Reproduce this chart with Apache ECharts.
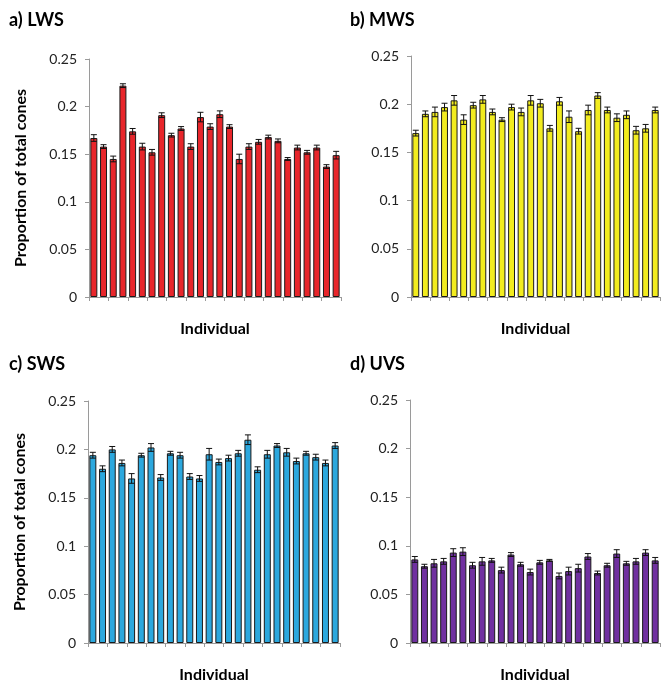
<!DOCTYPE html>
<html>
<head>
<meta charset="utf-8">
<script src="https://cdn.jsdelivr.net/npm/echarts@6/dist/echarts.min.js"></script>
<style>
html,body{margin:0;padding:0;background:#fff;}
#chart{width:665px;height:684px;}
</style>
</head>
<body>
<div id="chart"></div>
<script>
// ---- Data ----
var individuals = ['1','2','3','4','5','6','7','8','9','10','11','12','13','14','15','16','17','18','19','20','21','22','23','24','25','26'];
var yTicks = [0, 0.05, 0.1, 0.15, 0.2, 0.25];

var panelTitles = ['a) LWS', 'b) MWS', 'c) SWS', 'd) UVS'];

var lwsValues = [0.167,0.158,0.145,0.222,0.174,0.158,0.152,0.191,0.170,0.177,0.158,0.189,0.179,0.192,0.179,0.145,0.158,0.163,0.168,0.164,0.145,0.157,0.152,0.157,0.137,0.149];
var lwsErrors = [0.0035,0.002,0.003,0.002,0.003,0.0035,0.003,0.0025,0.002,0.002,0.003,0.005,0.003,0.0035,0.002,0.005,0.003,0.0025,0.002,0.002,0.0015,0.0025,0.002,0.0025,0.002,0.004];

var mwsValues = [0.170,0.190,0.192,0.197,0.204,0.184,0.199,0.205,0.192,0.184,0.197,0.192,0.204,0.201,0.175,0.203,0.187,0.172,0.194,0.209,0.194,0.186,0.189,0.173,0.175,0.194];
var mwsErrors = [0.003,0.003,0.005,0.004,0.005,0.005,0.003,0.004,0.003,0.002,0.003,0.004,0.005,0.004,0.003,0.004,0.006,0.003,0.005,0.003,0.003,0.004,0.004,0.004,0.004,0.003];

var swsValues = [0.194,0.180,0.200,0.186,0.170,0.194,0.202,0.171,0.196,0.194,0.172,0.170,0.195,0.187,0.191,0.196,0.210,0.179,0.195,0.204,0.197,0.188,0.196,0.192,0.186,0.204];
var swsErrors = [0.003,0.003,0.003,0.003,0.005,0.002,0.004,0.003,0.002,0.003,0.003,0.003,0.006,0.003,0.003,0.003,0.005,0.003,0.004,0.002,0.004,0.003,0.002,0.003,0.003,0.003];

var uvsValues = [0.086,0.079,0.082,0.084,0.093,0.094,0.080,0.084,0.085,0.075,0.091,0.081,0.073,0.083,0.085,0.069,0.074,0.077,0.089,0.072,0.080,0.092,0.082,0.084,0.093,0.085];
var uvsErrors = [0.003,0.002,0.004,0.003,0.004,0.004,0.003,0.004,0.002,0.003,0.002,0.002,0.003,0.002,0.001,0.003,0.004,0.004,0.003,0.002,0.002,0.004,0.002,0.003,0.003,0.003];

var panelValues = [lwsValues, mwsValues, swsValues, uvsValues];
var panelErrors = [lwsErrors, mwsErrors, swsErrors, uvsErrors];
var panelColors = ['#E8262B', '#F2EC1F', '#2CA8DE', '#7030A0'];

// ---- Layout ----
var grids = [
  {left: 89, top: 59, width: 252, height: 238},
  {left: 411, top: 56, width: 249, height: 241},
  {left: 88, top: 401, width: 252, height: 242},
  {left: 410, top: 400, width: 250, height: 243}
];
var titlePos = [[4, 6], [345, 6], [4, 350], [345, 350]];

var FONT = 'Lato, "Open Sans", sans-serif';
var chart = echarts.init(document.getElementById('chart'), null, {renderer: 'canvas'});

var option = {
  backgroundColor: '#ffffff',
  animation: false,
  title: panelTitles.map(function (t, i) {
    return {text: t, left: titlePos[i][0], top: titlePos[i][1],
      textStyle: {fontFamily: FONT, fontWeight: 'bold', fontSize: 18, color: '#000'}};
  }),
  grid: grids.map(function (g) { return Object.assign({containLabel: false}, g); }),
  xAxis: grids.map(function (g, i) {
    return {
      type: 'category', gridIndex: i, data: individuals,
      name: 'Individual', nameLocation: 'middle', nameGap: 24,
      nameTextStyle: {fontFamily: FONT, fontWeight: 'bold', fontSize: 16, color: '#000'},
      axisLine: {lineStyle: {color: '#9a9a9a', width: 1}},
      axisTick: {show: true, length: 4, lineStyle: {color: '#9a9a9a'}},
      axisLabel: {show: false},
      splitLine: {show: false}
    };
  }),
  yAxis: grids.map(function (g, i) {
    return {
      type: 'value', gridIndex: i, min: yTicks[0], max: yTicks[yTicks.length - 1], interval: 0.05,
      name: (i % 2 === 0) ? 'Proportion of total cones' : '',
      nameLocation: 'middle', nameGap: 60,
      nameTextStyle: {fontFamily: FONT, fontWeight: 'bold', fontSize: 16, color: '#000'},
      axisLine: {show: true, lineStyle: {color: '#9a9a9a', width: 1}},
      axisTick: {show: true, length: 4, lineStyle: {color: '#9a9a9a'}},
      axisLabel: {fontFamily: FONT, fontSize: 14, color: '#222', margin: 12,
        formatter: function (v) { return String(Math.round(v * 100) / 100); }},
      splitLine: {show: false}
    };
  }),
  series: []
};

panelValues.forEach(function (vals, i) {
  option.series.push({
    type: 'bar', xAxisIndex: i, yAxisIndex: i, data: vals,
    barCategoryGap: '28%',
    itemStyle: {color: panelColors[i], borderColor: '#1a1a1a', borderWidth: 1}
  });
  var errData = vals.map(function (v, k) { return [k, v, panelErrors[i][k]]; });
  option.series.push({
    type: 'custom', xAxisIndex: i, yAxisIndex: i, data: errData, z: 10,
    renderItem: function (params, api) {
      var x = api.value(0), v = api.value(1), e = api.value(2);
      var hi = api.coord([x, v + e]);
      var lo = api.coord([x, v - e]);
      var cw = 3;
      var st = {stroke: '#111', lineWidth: 1};
      return {type: 'group', children: [
        {type: 'line', shape: {x1: hi[0], y1: hi[1], x2: lo[0], y2: lo[1]}, style: st},
        {type: 'line', shape: {x1: hi[0] - cw, y1: hi[1], x2: hi[0] + cw, y2: hi[1]}, style: st},
        {type: 'line', shape: {x1: lo[0] - cw, y1: lo[1], x2: lo[0] + cw, y2: lo[1]}, style: st}
      ]};
    }
  });
});

chart.setOption(option);
</script>
</body>
</html>
